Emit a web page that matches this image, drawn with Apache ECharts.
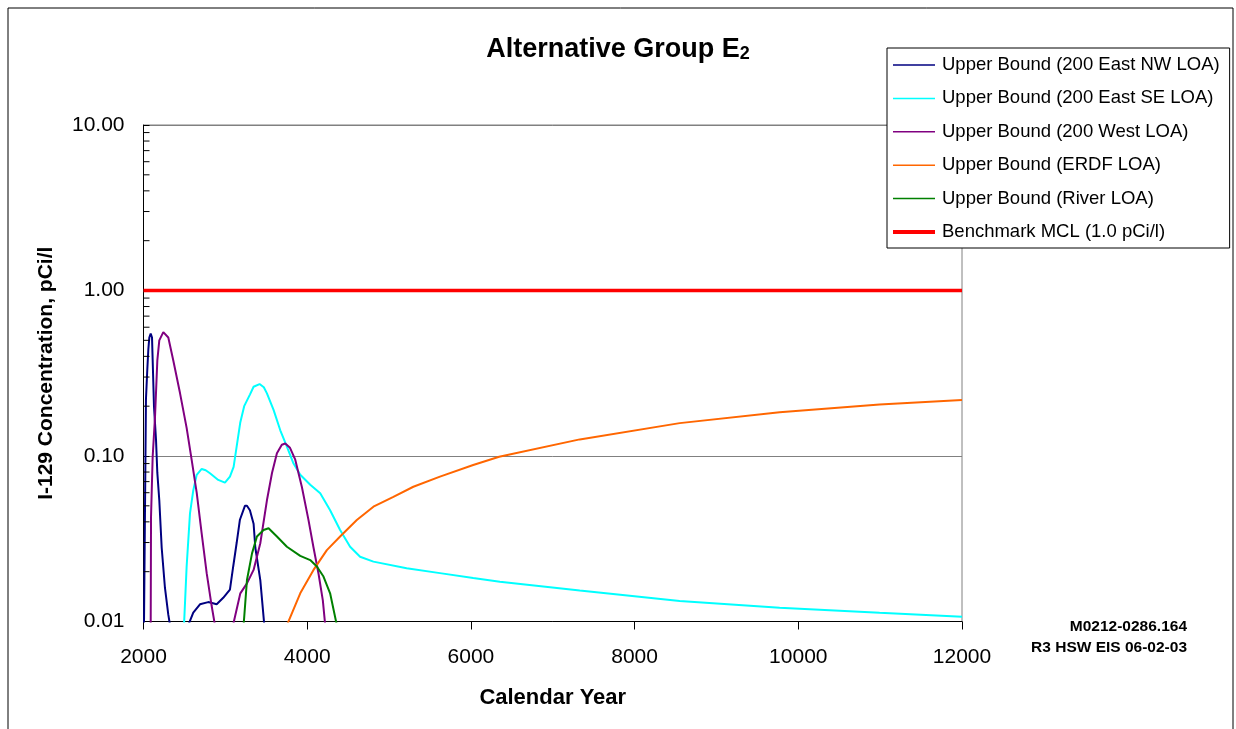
<!DOCTYPE html>
<html>
<head>
<meta charset="utf-8">
<title>Alternative Group E2</title>
<script src="https://cdn.jsdelivr.net/npm/echarts@6/dist/echarts.min.js"></script>
<style>
  html, body { margin: 0; padding: 0; background: #fff; }
  #chart { width: 1236px; height: 729px; }
</style>
</head>
<body>
<div id="chart"></div>
<script>
// [calendar year, concentration pCi/l]
const eastNwLoa = [
  [2006, 0.0095], [2030, 0.22], [2046, 0.33], [2059, 0.44], [2071, 0.52], [2088, 0.55],
  [2104, 0.52], [2112, 0.38], [2128, 0.2], [2153, 0.125], [2169, 0.079], [2193, 0.054],
  [2222, 0.028], [2262, 0.016], [2303, 0.011], [2324, 0.0095], [2430, null],
  [2547, 0.0095], [2608, 0.0113], [2690, 0.0127], [2791, 0.0131], [2894, 0.0127],
  [2974, 0.0139], [3056, 0.0156], [3096, 0.0215], [3138, 0.0298], [3178, 0.0412],
  [3239, 0.05], [3264, 0.05], [3300, 0.047], [3345, 0.039], [3366, 0.028],
  [3427, 0.0178], [3476, 0.0095]
]
const eastSeLoa = [
  [2495, 0.0095], [2527, 0.0215], [2568, 0.045], [2608, 0.062], [2650, 0.077],
  [2711, 0.0835], [2760, 0.082], [2812, 0.0786], [2913, 0.0717], [2995, 0.069],
  [3056, 0.075], [3101, 0.086], [3138, 0.114], [3183, 0.16], [3230, 0.2], [3300, 0.235],
  [3345, 0.262], [3418, 0.272], [3470, 0.26], [3508, 0.239], [3589, 0.19], [3671, 0.143],
  [3752, 0.114], [3833, 0.09], [3915, 0.077], [4037, 0.067], [4159, 0.0595],
  [4280, 0.047], [4402, 0.0357], [4524, 0.0283], [4646, 0.0246], [4809, 0.023],
  [5215, 0.021], [5622, 0.0196], [6028, 0.0183], [6354, 0.0174], [7330, 0.0154],
  [8551, 0.0133], [9772, 0.0121], [10993, 0.0113], [12000, 0.0107]
]
const westLoa = [
  [2088, 0.0095], [2092, 0.043], [2112, 0.099], [2140, 0.17], [2169, 0.378], [2193, 0.5],
  [2242, 0.56], [2303, 0.52], [2364, 0.378], [2446, 0.24], [2527, 0.148], [2588, 0.095],
  [2650, 0.06], [2711, 0.034], [2772, 0.0196], [2833, 0.0124], [2873, 0.0095], [2980, null],
  [3094, 0.0095], [3183, 0.0148], [3264, 0.017], [3345, 0.0205], [3427, 0.0297],
  [3508, 0.054], [3570, 0.079], [3630, 0.104], [3690, 0.117], [3732, 0.119],
  [3790, 0.112], [3854, 0.095], [3935, 0.065], [4016, 0.041], [4077, 0.028],
  [4138, 0.0195], [4191, 0.0134], [4220, 0.0095]
]
const erdfLoa = [
  [3752, 0.0095], [3915, 0.0148], [4077, 0.0205], [4240, 0.027], [4402, 0.0326],
  [4606, 0.041], [4809, 0.0494], [5053, 0.0567], [5297, 0.0652], [5622, 0.075],
  [6028, 0.0882], [6345, 0.099], [7330, 0.126], [8551, 0.158], [9772, 0.184],
  [10993, 0.205], [12000, 0.218]
]
const riverLoa = [
  [3223, 0.0095], [3264, 0.0178], [3326, 0.0258], [3386, 0.0326], [3467, 0.0357],
  [3528, 0.0366], [3630, 0.0326], [3752, 0.0283], [3915, 0.0249], [4037, 0.0235],
  [4118, 0.0215], [4199, 0.0187], [4280, 0.0148], [4362, 0.0095]
]
const benchmarkMcl = [[2000, 1], [12000, 1]]

const seriesNames = [
  'Upper Bound (200 East NW LOA)',
  'Upper Bound (200 East SE LOA)',
  'Upper Bound (200 West LOA)',
  'Upper Bound (ERDF LOA)',
  'Upper Bound (River LOA)',
  'Benchmark MCL (1.0 pCi/l)'
]
const seriesColors = ['#000080', '#00ffff', '#800080', '#ff6600', '#008000', '#ff0000']

// log-axis minor tick positions (2..9 of each decade)
const minorTickVals = [
  0.02, 0.03, 0.04, 0.05, 0.06, 0.07, 0.08, 0.09,
  0.2, 0.3, 0.4, 0.5, 0.6, 0.7, 0.8, 0.9,
  2, 3, 4, 5, 6, 7, 8, 9
]

const FONT = 'Liberation Sans, Arial, Helvetica, sans-serif'

const chart = echarts.init(document.getElementById('chart'))

function lineSeries(name, data, color, width) {
  return {
    name: name,
    type: 'line',
    data: data,
    symbol: 'none',
    connectNulls: false,
    clip: true,
    silent: true,
    lineStyle: { color: color, width: width },
    itemStyle: { color: color },
    z: 3
  }
}

chart.setOption({
  backgroundColor: '#fff',
  animation: false,
  textStyle: { fontFamily: FONT },
  title: {
    text: '{m|Alternative Group E}{s|2}',
    left: 'center',
    top: 33,
    padding: 0,
    textStyle: {
      rich: {
        m: { fontFamily: FONT, fontSize: 27, fontWeight: 'bold', color: '#000', lineHeight: 30, verticalAlign: 'bottom' },
        s: { fontFamily: FONT, fontSize: 18, fontWeight: 'bold', color: '#000', lineHeight: 14, verticalAlign: 'bottom' }
      }
    }
  },
  legend: {
    orient: 'vertical',
    left: 887,
    top: 48,
    padding: [7, 10, 6, 6],
    itemWidth: 42,
    itemHeight: 4,
    itemGap: 13.4,
    backgroundColor: '#fff',
    borderColor: '#000',
    borderWidth: 1,
    selectedMode: false,
    textStyle: { fontFamily: FONT, fontSize: 18.5, color: '#000', lineHeight: 20, padding: [0, 0, 0, 2] },
    data: seriesNames.map((n, i) => ({
      name: n,
      icon: i === 5 ? 'path://M0,0H42V4H0Z' : 'path://M0,0H28V1H0Z'
    }))
  },
  grid: {
    left: 143.5,
    top: 125,
    width: 818.5,
    height: 496.5,
    show: true,
    borderColor: '#808080',
    borderWidth: 1,
    backgroundColor: 'transparent'
  },
  xAxis: {
    type: 'value',
    min: 2000,
    max: 12000,
    interval: 2000,
    name: 'Calendar Year',
    nameLocation: 'middle',
    nameGap: 65,
    nameTextStyle: { fontFamily: FONT, fontSize: 22, fontWeight: 'bold', color: '#000' },
    axisLine: { show: true, lineStyle: { color: '#000', width: 1 } },
    axisTick: { show: true, inside: false, length: 8, lineStyle: { color: '#000' } },
    axisLabel: { fontFamily: FONT, fontSize: 21, color: '#000', margin: 25, formatter: v => String(v) },
    splitLine: { show: false }
  },
  yAxis: {
    type: 'log',
    logBase: 10,
    min: 0.01,
    max: 10,
    name: 'I-129 Concentration, pCi/l',
    nameLocation: 'middle',
    nameGap: 87,
    nameTextStyle: { fontFamily: FONT, fontSize: 21, fontWeight: 'bold', color: '#000' },
    axisLine: { show: true, lineStyle: { color: '#000', width: 1 } },
    axisTick: { show: true, inside: true, length: 6, lineStyle: { color: '#000' } },
    axisLabel: {
      fontFamily: FONT,
      fontSize: 21,
      color: '#000',
      margin: 19,
      formatter: v => Number(v).toFixed(2)
    },
    splitLine: { show: true, lineStyle: { color: '#808080', width: 1 } }
  },
  graphic: [
    {
      type: 'rect',
      shape: { x: 8, y: 8, width: 1225, height: 740 },
      style: { fill: 'none', stroke: '#000', lineWidth: 1 },
      silent: true,
      z: -10
    },
    {
      type: 'text',
      x: 1187,
      y: 627,
      style: {
        text: 'M0212-0286.164',
        font: 'bold 15.5px ' + FONT,
        fill: '#000',
        textAlign: 'right',
        textVerticalAlign: 'middle'
      }
    },
    {
      type: 'text',
      x: 1187,
      y: 648,
      style: {
        text: 'R3 HSW EIS 06-02-03',
        font: 'bold 15.5px ' + FONT,
        fill: '#000',
        textAlign: 'right',
        textVerticalAlign: 'middle'
      }
    }
  ],
  series: [
    lineSeries(seriesNames[0], eastNwLoa, seriesColors[0], 2),
    lineSeries(seriesNames[1], eastSeLoa, seriesColors[1], 2),
    lineSeries(seriesNames[2], westLoa, seriesColors[2], 2),
    lineSeries(seriesNames[3], erdfLoa, seriesColors[3], 2),
    lineSeries(seriesNames[4], riverLoa, seriesColors[4], 2),
    lineSeries(seriesNames[5], benchmarkMcl, seriesColors[5], 3.5),
    {
      // minor ticks on the log axis, placed through the axis scale
      type: 'custom',
      silent: true,
      clip: false,
      data: minorTickVals.map(v => [2000, v]),
      renderItem: function (params, api) {
        const p = api.coord([api.value(0), api.value(1)])
        return {
          type: 'line',
          shape: { x1: p[0], y1: p[1], x2: p[0] + 6, y2: p[1] },
          style: { stroke: '#000', lineWidth: 1 }
        }
      },
      z: 4
    }
  ]
})
</script>
</body>
</html>
